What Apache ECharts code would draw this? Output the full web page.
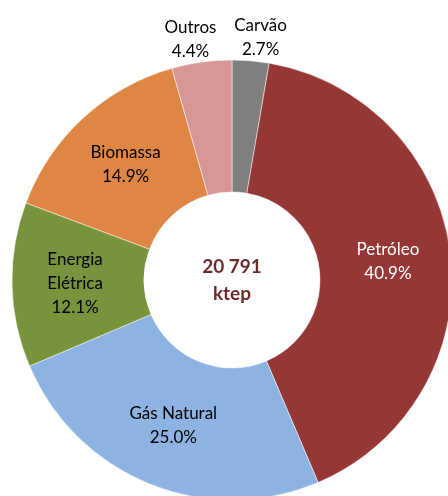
<!DOCTYPE html>
<html>
<head>
<meta charset="utf-8">
<script src="https://cdn.jsdelivr.net/npm/echarts@6/dist/echarts.min.js"></script>
<style>
  html, body { margin: 0; padding: 0; background: #fff; }
  #chart { width: 448px; height: 496px; }
</style>
</head>
<body>
<div id="chart"></div>
<script>
// dados (ordem a partir das 12h, sentido horário)
const categories = ['Carvão', 'Petróleo', 'Gás Natural', 'Energia\nElétrica', 'Biomassa', 'Outros'];
const shares = [2.7, 40.9, 25.0, 12.1, 14.9, 4.4];
const colors = ['#7f7f7f', '#953735', '#8db3e2', '#77933c', '#de8643', '#d69795'];
const totalText = ['20 791', 'ktep'];

const outsideLabels = ['Carvão', 'Outros'];

const chart = echarts.init(document.getElementById('chart'));

const seriesData = categories.map((name, i) => {
  const item = {
    name: name,
    value: shares[i],
    itemStyle: { color: colors[i] }
  };
  if (outsideLabels.indexOf(name) >= 0) {
    item.label = { position: 'outside', distanceToLabelLine: 8 };
    item.labelLine = { show: false, length: 23, length2: 0 };
  } else if (name === 'Petróleo') {
    item.label = { color: '#fff' };
  }
  return item;
});

const option = {
  animation: false,
  graphic: [
    {
      type: 'text',
      x: 232,
      y: 280,
      style: {
        text: totalText.join('\n'),
        align: 'center',
        verticalAlign: 'middle',
        fill: '#6e2a2a',
        font: 'bold 19px Lato',
        lineHeight: 27
      }
    }
  ],
  series: [
    {
      type: 'pie',
      center: [232, 280],
      radius: [88, 220],
      startAngle: 90,
      clockwise: true,
      avoidLabelOverlap: false,
      itemStyle: { borderColor: '#fff', borderWidth: 0.5 },
      label: {
        show: true,
        position: 'inside',
        color: '#000',
        fontFamily: 'Lato',
        fontSize: 17,
        lineHeight: 24,
        formatter: (p) => p.name + '\n' + p.value.toFixed(1) + '%'
      },
      labelLayout: (p) => {
        // rótulos externos centrados sobre a fatia
        if (outsideLabels.indexOf(categories[p.dataIndex]) >= 0) {
          return { align: 'center' };
        }
        return {};
      },
      data: seriesData
    }
  ]
};

chart.setOption(option);
</script>
</body>
</html>
